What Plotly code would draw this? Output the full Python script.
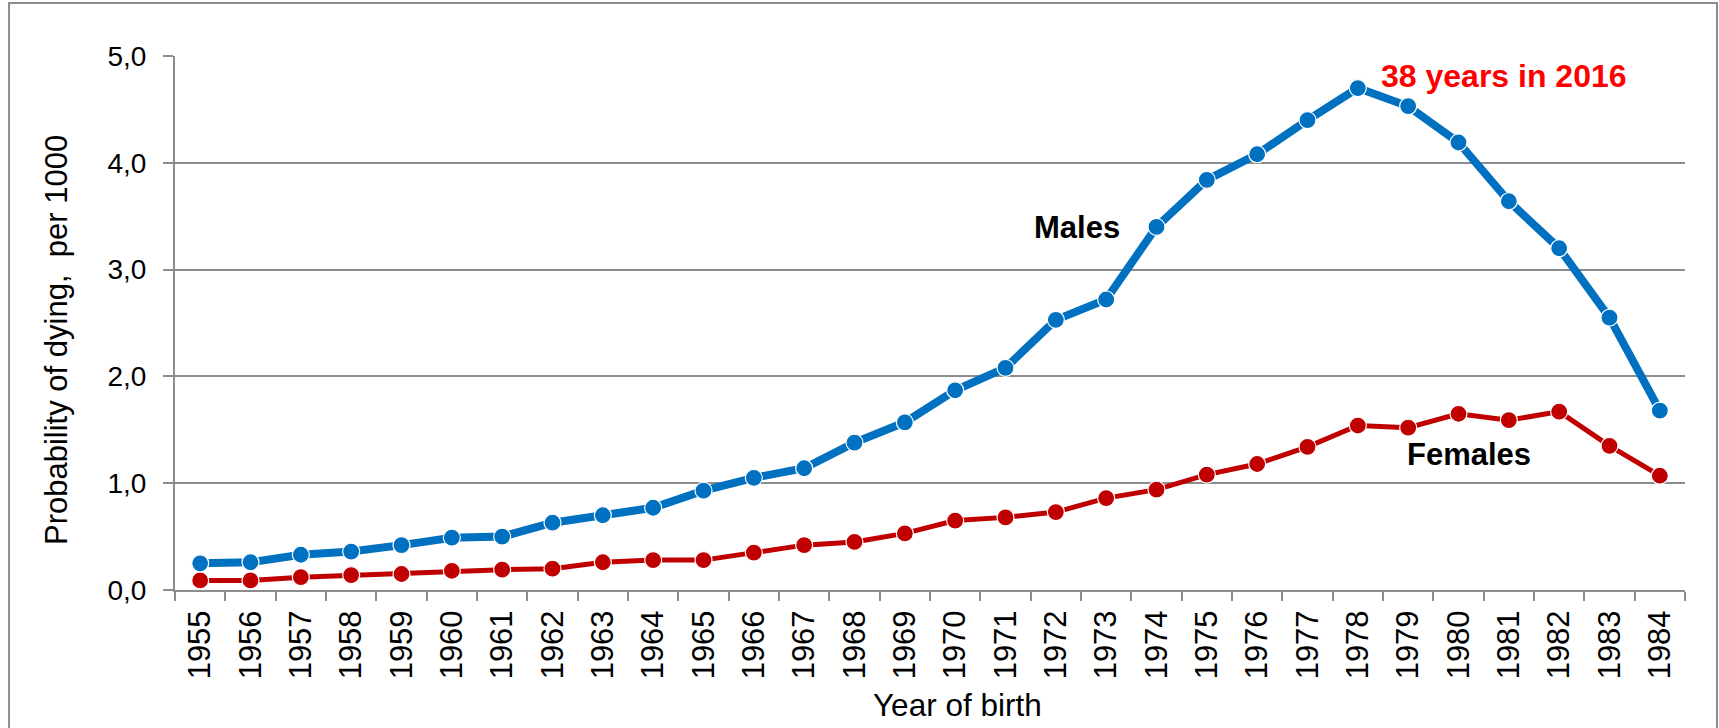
import plotly.graph_objects as go


# Data
years = [str(y) for y in range(1955, 1985)]

males = [0.25, 0.26, 0.33, 0.36, 0.42, 0.49, 0.50, 0.63, 0.70, 0.77,
         0.93, 1.05, 1.14, 1.38, 1.57, 1.87, 2.08, 2.53, 2.72, 3.40,
         3.84, 4.08, 4.40, 4.70, 4.53, 4.19, 3.64, 3.20, 2.55, 1.68]

females = [0.09, 0.09, 0.12, 0.14, 0.15, 0.18, 0.19, 0.20, 0.26, 0.28,
           0.28, 0.35, 0.42, 0.45, 0.53, 0.65, 0.68, 0.73, 0.86, 0.94,
           1.08, 1.18, 1.34, 1.54, 1.52, 1.65, 1.59, 1.67, 1.35, 1.07]

y_ticks = [0, 1, 2, 3, 4, 5]

BLUE = "#0070C0"
RED = "#C00000"
GRID = "#8C8C8C"
FONT = "Liberation Sans, Arial, sans-serif"


fig = go.Figure()

fig.add_trace(go.Scatter(
    x=years,
    y=females,
    mode="lines+markers",
    name="Females",
    line=dict(color=RED, width=5),
    marker=dict(color=RED, size=17, line=dict(color="white", width=1.2)),
))

fig.add_trace(go.Scatter(
    x=years,
    y=males,
    mode="lines+markers",
    name="Males",
    line=dict(color=BLUE, width=8),
    marker=dict(color=BLUE, size=17, line=dict(color="white", width=1.2)),
))

fig.update_layout(
    width=1719,
    height=728,
    margin=dict(l=175, r=34, t=56, b=138),
    paper_bgcolor="white",
    plot_bgcolor="white",
    showlegend=False,
    separators=", ",
    font=dict(family=FONT, color="black"),
)

fig.update_xaxes(
    type="category",
    tickson="boundaries",
    ticks="outside",
    ticklen=9,
    tickcolor=GRID,
    tickwidth=1.5,
    tickangle=-90,
    tickfont=dict(size=31, family=FONT),
    ticklabelstandoff=6,
    showgrid=False,
    showline=True,
    linecolor=GRID,
    linewidth=2,
    range=[-0.5, len(years) - 0.5],
)

fig.update_yaxes(
    range=[0, 5],
    tickvals=y_ticks,
    tickformat=".1f",
    ticks="outside",
    ticklen=10,
    tickcolor=GRID,
    tickwidth=1.5,
    tickfont=dict(size=28, family=FONT),
    ticklabelstandoff=11,
    showgrid=True,
    gridcolor=GRID,
    gridwidth=1.5,
    showline=True,
    linecolor=GRID,
    linewidth=2,
    zeroline=False,
)

# Axis titles
fig.add_annotation(
    text="Probability of dying,\u00a0 per 1000",
    xref="paper", yref="paper",
    x=-0.0785, y=0.469,
    xanchor="center", yanchor="middle",
    textangle=-90,
    showarrow=False,
    font=dict(size=31, family=FONT),
)
fig.add_annotation(
    text="Year of birth",
    xref="paper", yref="paper",
    x=0.518, y=-0.215,
    xanchor="center", yanchor="middle",
    showarrow=False,
    font=dict(size=31.5, family=FONT),
)

# Series labels
fig.add_annotation(
    text="<b>Males</b>", x=17.42, y=3.39, showarrow=False,
    xanchor="center", yanchor="middle",
    font=dict(size=31, family=FONT, color="black"),
)
fig.add_annotation(
    text="<b>Females</b>", x=25.2, y=1.27, showarrow=False,
    xanchor="center", yanchor="middle",
    font=dict(size=31, family=FONT, color="black"),
)
fig.add_annotation(
    text="<b>38 years in 2016</b>", x=25.9, y=4.81, showarrow=False,
    xanchor="center", yanchor="middle",
    font=dict(size=32, family=FONT, color="#FF0000"),
)

# Outer chart border
fig.add_shape(
    type="rect",
    xref="paper", yref="paper",
    x0=-0.1099, x1=1.0212, y0=-0.27, y1=1.0993,
    line=dict(color="#8C8C8C", width=2),
    fillcolor="rgba(0,0,0,0)",
    layer="below",
)

fig.write_html(
    "out.html",
    config={"displayModeBar": False},
    post_script="document.body.style.margin='0';",
)
